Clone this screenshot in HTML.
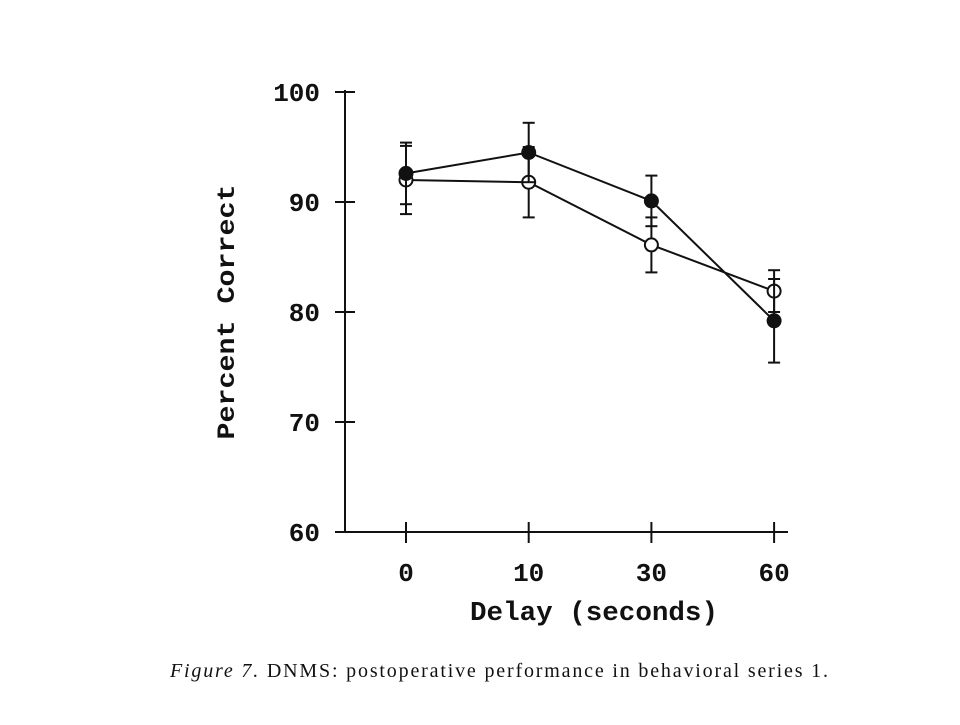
<!DOCTYPE html>
<html><head><meta charset="utf-8"><style>
body{margin:0;background:#fff;width:960px;height:720px;overflow:hidden}
svg text{fill:#111}
.tk{font-family:"Liberation Mono",monospace;font-size:26px;font-weight:bold}
</style></head><body>
<svg width="960" height="720">
<g id="axes" stroke="#111" stroke-width="2" fill="none"></g>
<g id="marks"></g>
<text class="tk" transform="translate(234,312) rotate(-90)" text-anchor="middle" textLength="255" lengthAdjust="spacingAndGlyphs" style="font-size:25px">Percent Correct</text>
<text class="tk" x="594" y="620" text-anchor="middle" textLength="248" lengthAdjust="spacingAndGlyphs" style="font-size:27px">Delay (seconds)</text>
<text x="170" y="677" textLength="658" lengthAdjust="spacing" style="font-family:'Liberation Serif',serif;font-size:20px"><tspan font-style="italic">Figure 7.</tspan>   DNMS: postoperative performance in behavioral series 1.</text>
</svg>
<script>
const categories=["0","10","30","60"];
const filledMeans=[92.6,94.5,90.1,79.2];
const filledErr=[2.8,2.7,2.3,3.8];
const openMeans=[92.0,91.8,86.1,81.9];
const openErr=[3.1,3.2,2.5,1.9];
const yTicks=[60,70,80,90,100];
const NS="http://www.w3.org/2000/svg";
const y=v=>92+(100-v)*11;
const x=i=>406+i*122.7;
const ax=document.getElementById('axes'),mk=document.getElementById('marks'),svg=ax.ownerSVGElement;
function el(p,t,a){const e=document.createElementNS(NS,t);for(const k in a)e.setAttribute(k,a[k]);p.appendChild(e);return e;}
let l=el(ax,'line',{x1:345,y1:90,x2:345,y2:533});


l=el(ax,'line',{x1:344,y1:532,x2:788,y2:532});


yTicks.forEach(v=>{
 const t=el(ax,'line',{x1:335,x2:355,y1:y(v),y2:y(v)});
 
 
 const tx=el(svg,'text',{x:320,y:y(v)+9,'text-anchor':'end',class:'tk'});
 tx.textContent=v;
 
 
});
categories.forEach((c,i)=>{
 const t=el(ax,'line',{x1:x(i),x2:x(i),y1:522,y2:543});
 
 
 const tx=el(svg,'text',{x:x(i),y:581,'text-anchor':'middle',class:'tk'});
 tx.textContent=c;
 
 
});
function series(means,errs,fill,name){
 const pts=means.map((m,i)=>x(i)+','+y(m)).join(' ');
 const pl=el(mk,'polyline',{points:pts,fill:'none',stroke:'#111','stroke-width':2});
 
 
 means.forEach((m,i)=>{
  const g=el(mk,'g',{stroke:'#111','stroke-width':2});
  
  
  el(g,'line',{x1:x(i),x2:x(i),y1:y(m+errs[i]),y2:y(m-errs[i])});
  el(g,'line',{x1:x(i)-6,x2:x(i)+6,y1:y(m+errs[i]),y2:y(m+errs[i])});
  el(g,'line',{x1:x(i)-6,x2:x(i)+6,y1:y(m-errs[i]),y2:y(m-errs[i])});
  const c=el(mk,'circle',{cx:x(i),cy:y(m),r:6.5,fill:fill,stroke:'#111','stroke-width':2});
  
  
 });
}
series(openMeans,openErr,'#fff','open-series');
series(filledMeans,filledErr,'#111','filled-series');
</script>
</body></html>
